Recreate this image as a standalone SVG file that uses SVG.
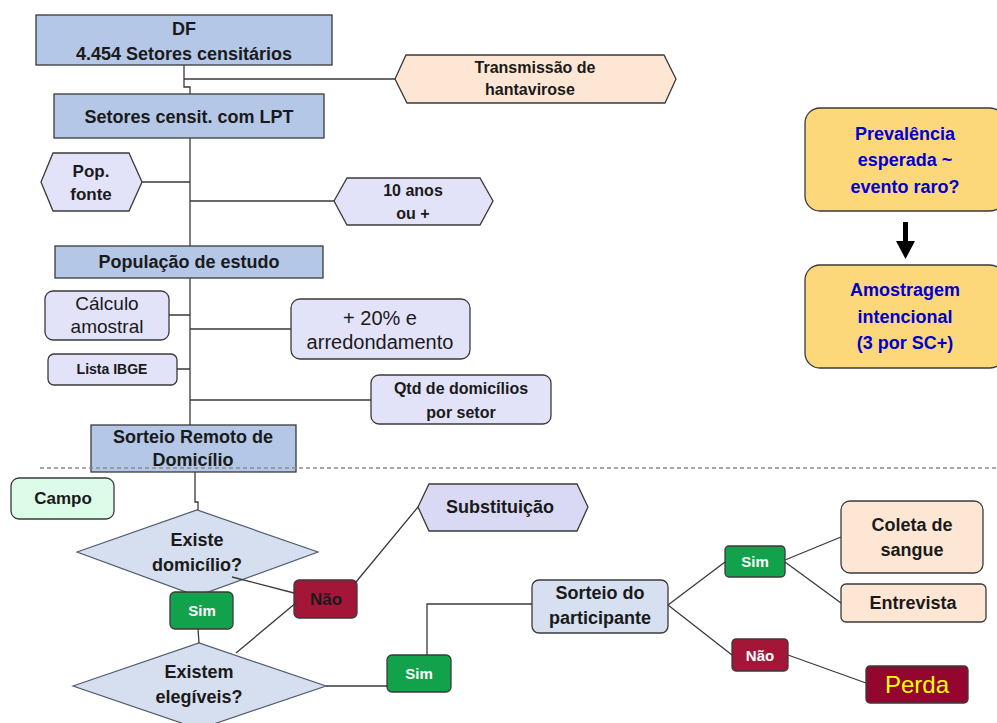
<svg xmlns="http://www.w3.org/2000/svg" width="997" height="723" viewBox="0 0 997 723">
<style>
text{font-family:"Liberation Sans",Arial,sans-serif;text-anchor:middle;fill:#1a1a1a}
.b{font-weight:bold}
.box{stroke:#3a3a3a;stroke-width:1.3}
.blue{fill:#b4c7e7}
.peach{fill:#fde7d4}
.lav{fill:#e2e2f9}
.dia{fill:#d6dff0;stroke:#505a6e;stroke-width:1.2}
.green{fill:#12a24b}
.red{fill:#a31638}
.yel{fill:#fdd87a}
.con{fill:none;stroke:#3a3a3a;stroke-width:1.3}
.wt{fill:#ffffff}
.bt{fill:#0000cc}
</style>
<rect width="997" height="723" fill="#ffffff"/>
<g id="n-df"><rect class="box blue" x="36" y="15" width="296" height="50"/><text class="b" x="184" y="35" font-size="18">DF</text><text class="b" x="184" y="60" font-size="18">4.454 Setores censitários</text></g>
<g id="n-transmissao"><polygon class="box peach" points="395,79 406,55 664,55 676,79 665,103 407,103"/><text class="b" x="535" y="73" font-size="16">Transmissão de</text><text class="b" x="530" y="95" font-size="16">hantavirose</text></g>
<g id="n-lpt"><rect class="box blue" x="54" y="94" width="270" height="44"/><text class="b" x="189" y="123" font-size="18">Setores censit. com LPT</text></g>
<g id="n-popfonte"><polygon class="box lav" points="41,182 53,153 129,153 142,182 129,211 53,211"/><text class="b" x="91" y="177" font-size="17">Pop.</text><text class="b" x="91" y="200" font-size="17">fonte</text></g>
<g id="n-10anos"><polygon class="box lav" points="334,201 347,178 480,178 493,201 480,225 347,225"/><text class="b" x="413" y="196" font-size="16">10 anos</text><text class="b" x="413" y="219" font-size="16">ou +</text></g>
<g id="n-popestudo"><rect class="box blue" x="55" y="246" width="268" height="32"/><text class="b" x="189" y="268" font-size="18">População de estudo</text></g>
<g id="n-calculo"><rect class="box lav" x="45" y="291" width="124" height="49" rx="8"/><text x="107" y="310" font-size="19">Cálculo</text><text x="107" y="333" font-size="19">amostral</text></g>
<g id="n-20"><rect class="box lav" x="291" y="299" width="179" height="60" rx="9"/><text x="380" y="325" font-size="20">+ 20% e</text><text x="380" y="349" font-size="20">arredondamento</text></g>
<g id="n-lista"><rect class="box lav" x="48" y="354" width="129" height="31" rx="6"/><text class="b" x="112" y="374" font-size="14">Lista IBGE</text></g>
<g id="n-qtd"><rect class="box lav" x="371" y="375" width="180" height="49" rx="8"/><text class="b" x="461" y="394" font-size="16">Qtd de domicílios</text><text class="b" x="461" y="418" font-size="16">por setor</text></g>
<g id="n-sorteioremoto"><rect class="box blue" x="91" y="425" width="205" height="47"/><text class="b" x="193" y="443" font-size="18">Sorteio Remoto de</text><text class="b" x="193" y="466" font-size="18">Domicílio</text></g>
<g id="n-campo"><rect class="box" x="11" y="478" width="103" height="41" rx="8" fill="#dcfbe8"/><text class="b" x="63" y="504" font-size="17">Campo</text></g>
<g id="n-existe"><polygon class="dia" points="77,552 197,510 318,552 197,596"/><text class="b" x="197" y="546" font-size="18">Existe</text><text class="b" x="197" y="571" font-size="18">domicílio?</text></g>
<g id="n-existem"><polygon class="dia" points="73,686 199,643 326,686 199,729"/><text class="b" x="199" y="678" font-size="18">Existem</text><text class="b" x="199" y="703" font-size="18">elegíveis?</text></g>
<g id="n-substituicao"><polygon class="box" fill="#d9d9f3" points="418,507 429,484 577,484 588,507 577,531 429,531"/><text class="b" x="500" y="513" font-size="18">Substituição</text></g>
<g id="n-sim1"><rect class="box green" x="170" y="592" width="63" height="37" rx="5"/><text class="b wt" x="202" y="616" font-size="15">Sim</text></g>
<g id="n-nao1"><rect class="box red" x="294" y="580" width="63" height="38" rx="5"/><text class="b" x="326" y="605" font-size="17">Não</text></g>
<g id="n-sim2"><rect class="box green" x="387" y="655" width="64" height="37" rx="5"/><text class="b wt" x="419" y="679" font-size="15">Sim</text></g>
<g id="n-sorteiopart"><rect class="box" fill="#d6e0f0" x="532" y="580" width="136" height="53" rx="7"/><text class="b" x="600" y="599" font-size="18">Sorteio do</text><text class="b" x="600" y="624" font-size="18">participante</text></g>
<g id="n-sim3"><rect class="box green" x="725" y="546" width="60" height="31" rx="4"/><text class="b wt" x="755" y="567" font-size="15">Sim</text></g>
<g id="n-nao2"><rect class="box red" x="732" y="639" width="56" height="32" rx="4"/><text class="b wt" x="760" y="661" font-size="15">Não</text></g>
<g id="n-coleta"><rect class="box peach" x="841" y="501" width="142" height="72" rx="9"/><text class="b" x="912" y="531" font-size="18">Coleta de</text><text class="b" x="912" y="556" font-size="18">sangue</text></g>
<g id="n-entrevista"><rect class="box peach" x="841" y="584" width="145" height="38" rx="5"/><text class="b" x="913" y="609" font-size="18">Entrevista</text></g>
<g id="n-perda"><rect class="box" fill="#92062f" x="866" y="666" width="102" height="37" rx="4"/><text x="917" y="693" font-size="24" style="fill:#ffff00">Perda</text></g>
<g id="n-prevalencia"><rect class="box yel" x="805" y="108" width="200" height="103" rx="15"/><text class="b bt" x="905" y="140" font-size="18">Prevalência</text><text class="b bt" x="905" y="166" font-size="18">esperada ~</text><text class="b bt" x="905" y="193" font-size="18">evento raro?</text></g>
<g id="n-amostragem"><rect class="box yel" x="805" y="265" width="200" height="103" rx="15"/><text class="b bt" x="905" y="296" font-size="18">Amostragem</text><text class="b bt" x="905" y="323" font-size="18">intencional</text><text class="b bt" x="905" y="349" font-size="18">(3 por SC+)</text></g>
<g id="connectors">
<path class="con" d="M184 65 V79 H395 M184 79 V87 H190 V94"/>
<path class="con" d="M190 138 V246 M142 182 H190 M190 201 H334"/>
<path class="con" d="M190 278 V425 M169 315 H190 M190 329 H291 M177 369 H190 M190 400 H371"/>
<path class="con" d="M195 472 V502 H198 V510"/>
<path class="con" d="M232 577 L294 593 M356 582 L418 507 M297 602 L236 653 M198 629 L199 643"/>
<path class="con" d="M326 686 H387 M427 655 V604 H532"/>
<path class="con" d="M668 605 L725 562 M668 605 L732 655 M785 560 L841 537 M785 562 L841 603 M788 655 L866 683"/>
<polygon fill="#000000" points="903,222 908,222 908,241 915,241 905.5,259 896,241 903,241"/>
</g>
<line x1="40" y1="468" x2="997" y2="468" stroke="#8a8a8a" stroke-width="1.5" stroke-dasharray="4 3"/>
</svg>
